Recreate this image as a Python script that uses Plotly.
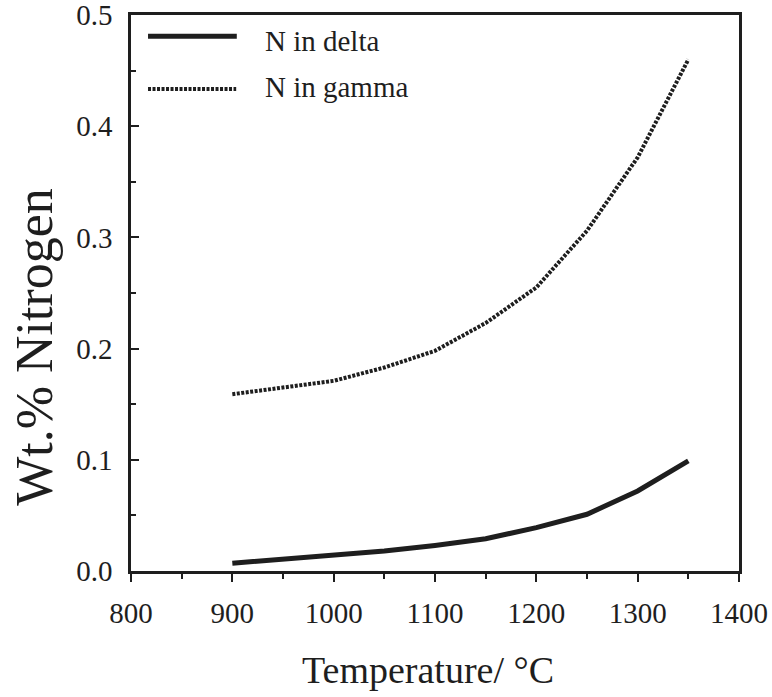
import plotly.graph_objects as go

temps = [900, 1000, 1050, 1100, 1150, 1200, 1250, 1300, 1350]
n_delta = [0.007, 0.0145, 0.018, 0.023, 0.029, 0.039, 0.051, 0.072, 0.099]
n_gamma = [0.159, 0.171, 0.183, 0.198, 0.223, 0.255, 0.306, 0.372, 0.460]

x_ticks = [800, 900, 1000, 1100, 1200, 1300, 1400]
y_ticks = [0.0, 0.1, 0.2, 0.3, 0.4, 0.5]
y_labels = ["0.0", "0.1", "0.2", "0.3", "0.4", "0.5"]

FONT = "Liberation Serif"
INK = "#1e1e1e"

fig = go.Figure()
fig.add_trace(go.Scatter(x=temps, y=n_delta, mode="lines", name="N in delta",
                         line=dict(color=INK, width=5), showlegend=False))
fig.add_trace(go.Scatter(x=temps, y=n_gamma, mode="lines", name="N in gamma",
                         line=dict(color=INK, width=4, dash="3px,1.5px"), showlegend=False))

# legend drawn manually
fig.add_shape(type="line", xref="paper", yref="paper", x0=0.028, x1=0.174, y0=0.962, y1=0.962,
              line=dict(color=INK, width=5))
fig.add_shape(type="line", xref="paper", yref="paper", x0=0.028, x1=0.173, y0=0.867, y1=0.867,
              line=dict(color=INK, width=4, dash="3px,1.5px"))
fig.add_annotation(text="N in delta", xref="paper", yref="paper", x=0.217, y=0.953,
                   xanchor="left", yanchor="middle", showarrow=False,
                   font=dict(family=FONT, size=29, color=INK))
fig.add_annotation(text="N in gamma", xref="paper", yref="paper", x=0.217, y=0.870,
                   xanchor="left", yanchor="middle", showarrow=False,
                   font=dict(family=FONT, size=29, color=INK))

# axis titles
fig.add_annotation(text="Temperature/ °C", xref="paper", yref="paper", x=0.488, y=-0.178,
                   xanchor="center", yanchor="middle", showarrow=False,
                   font=dict(family=FONT, size=38, color=INK))
fig.add_annotation(text="Wt.% Nitrogen", xref="paper", yref="paper", x=-0.158, y=0.403,
                   xanchor="center", yanchor="middle", showarrow=False, textangle=-90,
                   font=dict(family=FONT, size=52, color=INK))

fig.update_layout(
    width=772, height=697,
    margin=dict(l=131, r=33, t=15, b=126, autoexpand=False),
    plot_bgcolor="white", paper_bgcolor="white",
    font=dict(family=FONT, color=INK),
)
fig.update_xaxes(range=[800, 1400], tickvals=x_ticks, ticks="outside", ticklen=8, tickwidth=2,
                 tickcolor=INK, showline=True, linecolor=INK, linewidth=2.5, mirror=True,
                 showgrid=False, zeroline=False, tickfont=dict(family=FONT, size=29, color=INK),
                 ticklabelstandoff=6, automargin=False,
                 minor=dict(dtick=50, tick0=800, ticks="outside", ticklen=5, tickwidth=2, tickcolor=INK, showgrid=False))
fig.update_yaxes(range=[0, 0.50002], tickvals=y_ticks, ticktext=y_labels, ticks="inside", ticklen=8, tickwidth=2,
                 tickcolor=INK, showline=True, linecolor=INK, linewidth=2.5, mirror=True,
                 showgrid=False, zeroline=False, tickfont=dict(family=FONT, size=29, color=INK),
                 ticklabelstandoff=10, ticklabeloverflow="allow", automargin=False,
                 minor=dict(dtick=0.05, tick0=0, ticks="inside", ticklen=5, tickwidth=2, tickcolor=INK, showgrid=False))

fig.write_html("out.html")
